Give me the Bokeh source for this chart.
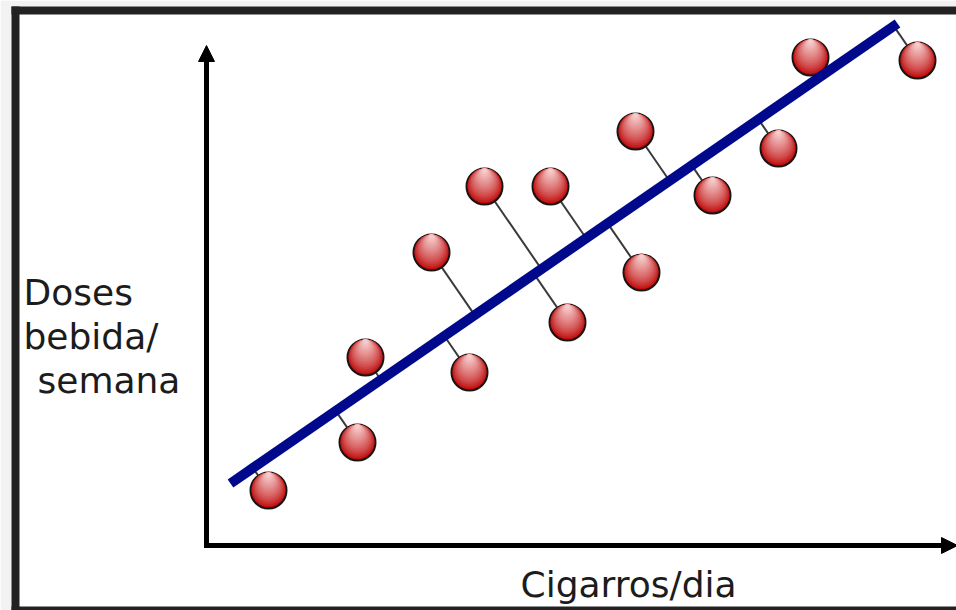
from bokeh.plotting import figure
from bokeh.models import Range1d, Arrow, NormalHead, BoxAnnotation, Label, ColumnDataSource
from bokeh.embed import file_html
from bokeh.resources import INLINE

# ---- data ----
cigarros = [3.10, 7.55, 7.95, 11.25, 13.15, 13.90, 17.20, 18.05, 21.45, 21.75, 25.30, 28.60, 30.20, 35.55]
doses = [2.75, 5.15, 9.40, 14.65, 8.65, 17.95, 17.95, 11.15, 20.70, 13.65, 17.50, 19.85, 24.40, 24.25]
trend_cigarros = [1.20, 34.55]
trend_doses = [3.10, 26.10]
x_label = "Cigarros/dia"
y_label_lines = ["Doses", "bebida/", "semana"]

# ---- layout constants (pixels) ----
W, H = 956, 610
PX = 20.0                 # pixels per data unit (same on both axes)
OX, OY = 206, 545         # pixel position of the data origin
TXT_SHIFT = 13            # renderer places alphabetic baseline lower by this much


def dx(px):
    return (px - OX) / PX


def dy(py):
    return (OY - py) / PX


p = figure(width=W, height=H, output_backend="svg", toolbar_location=None,
           x_range=Range1d(dx(0), dx(W)), y_range=Range1d(dy(H), dy(0)),
           x_axis_location=None, y_axis_location=None, title=None,
           min_border=0, min_border_left=0, min_border_right=0,
           min_border_top=0, min_border_bottom=0)
p.outline_line_color = None
p.grid.visible = False
p.background_fill_color = "white"
p.border_fill_color = "white"

# ---- residuals: perpendicular feet on the trend line ----
x0, y0 = trend_cigarros[0], trend_doses[0]
ux, uy = trend_cigarros[1] - x0, trend_doses[1] - y0
L2 = ux * ux + uy * uy
foot_x, foot_y = [], []
for cx, cy in zip(cigarros, doses):
    t = ((cx - x0) * ux + (cy - y0) * uy) / L2
    foot_x.append(x0 + t * ux)
    foot_y.append(y0 + t * uy)

src = ColumnDataSource(dict(x=cigarros, y=doses, fx=foot_x, fy=foot_y))
p.segment(x0="x", y0="y", x1="fx", y1="fy", source=src,
          line_color="#3a3a3a", line_width=2)

# ---- balls (layered circles imitate the vertical gradient) ----
R = 18.0
c_dark = (0xbc, 0x04, 0x04)
c_light = (0xf6, 0xcc, 0xcc)
diams = list(range(36, 3, -2))
n = len(diams)
for i, d in enumerate(diams):
    f = (i / (n - 1)) ** 0.75
    col = "#%02x%02x%02x" % tuple(int(round(a + (b - a) * f)) for a, b in zip(c_dark, c_light))
    off = (R - d / 2.0) / PX
    ys = [v + off for v in doses]
    if i == 0:
        p.scatter(cigarros, ys, size=d, fill_color=col, line_color="#151515", line_width=2)
    else:
        p.scatter(cigarros, ys, size=d, fill_color=col, line_color=None)

# ---- trend line ----
p.line(trend_cigarros, trend_doses, line_width=10, line_color="#00088c", line_cap="butt")

# ---- axes as arrows ----
p.add_layout(Arrow(end=NormalHead(size=16, fill_color="black", line_color="black", line_width=1),
                   x_start=0, y_start=dy(OY + 2.5), x_end=0, y_end=dy(45),
                   line_width=5, line_color="black"))
p.add_layout(Arrow(end=NormalHead(size=16, fill_color="black", line_color="black", line_width=1),
                   x_start=dx(OX - 2.5), y_start=0, x_end=dx(957), y_end=0,
                   line_width=5, line_color="black"))

# ---- labels ----
p.add_layout(Label(x=dx(520), y=dy(597 - TXT_SHIFT), text=x_label, text_font="DejaVu Sans",
                   text_font_size="36px", text_color="#1c1c1c", text_baseline="alphabetic"))
for line_txt, base, left in zip(y_label_lines, [305, 349, 393], [23, 23, 37]):
    p.add_layout(Label(x=dx(left), y=dy(base - TXT_SHIFT), text=line_txt, text_font="DejaVu Sans",
                       text_font_size="36px", text_color="#1c1c1c", text_baseline="alphabetic"))

# ---- picture frame ----
def box(l, r, t, b, col):
    p.add_layout(BoxAnnotation(left=dx(l), right=dx(r), top=dy(t), bottom=dy(b),
                               fill_color=col, fill_alpha=1.0, line_color=None))

box(0, 11, 0, H, "#f2f2f2")
box(0, W, 0, 6, "#f2f2f2")
box(11, 19, 6, H, "#222222")
box(11, W, 6, 14, "#222222")
box(11, W, 606, H, "#222222")

open("out.html", "w").write(file_html(p, INLINE))
